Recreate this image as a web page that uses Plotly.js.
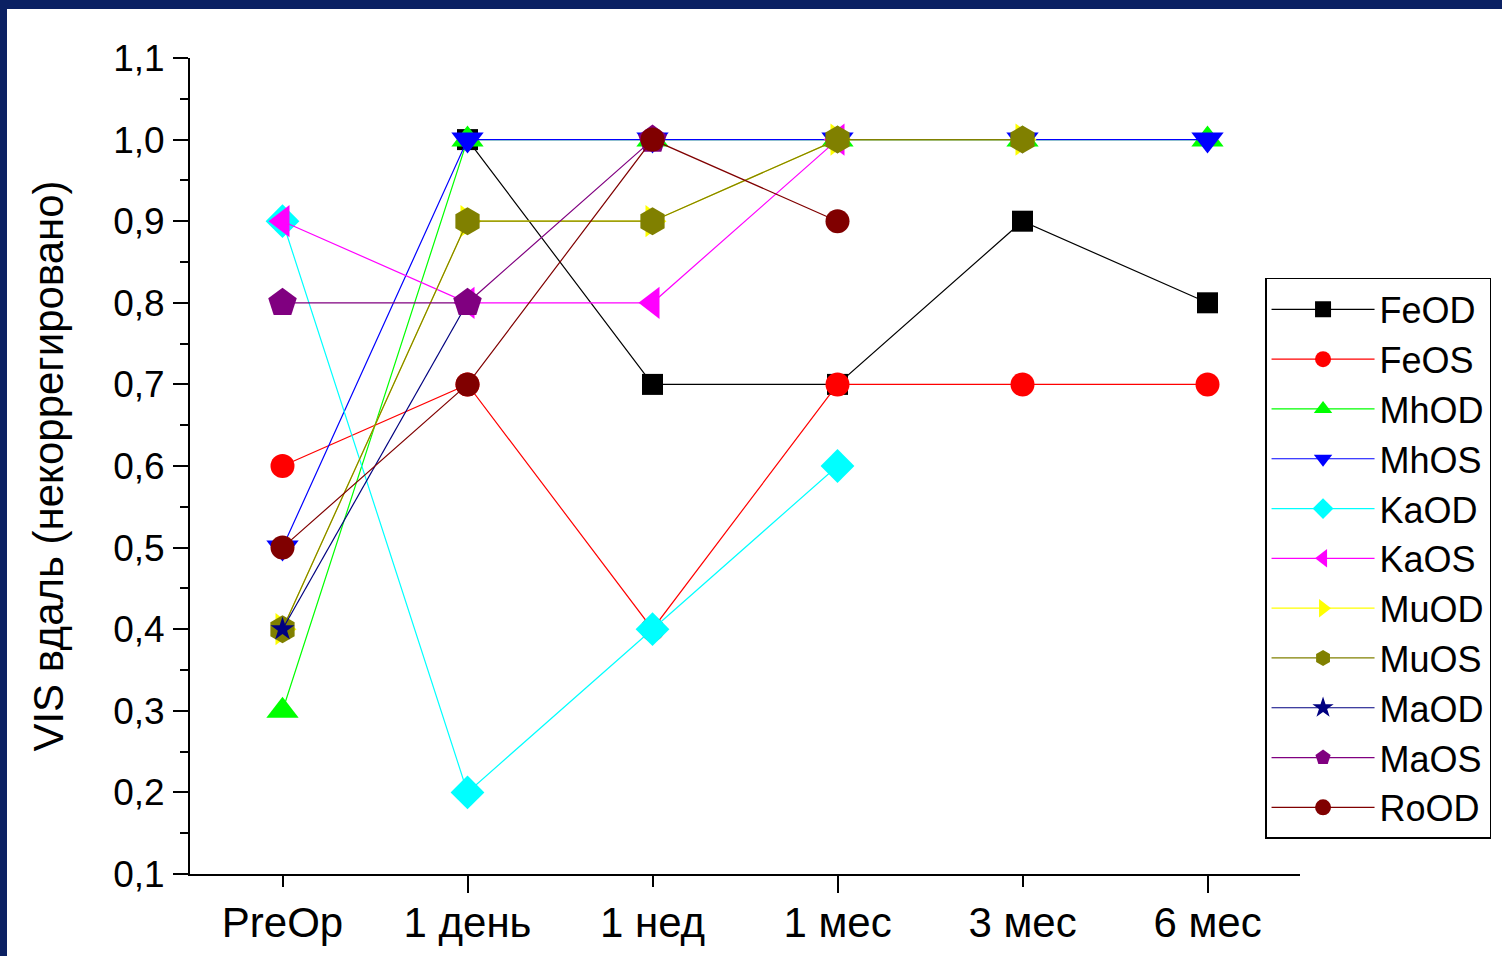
<!DOCTYPE html>
<html>
<head>
<meta charset="utf-8">
<script src="https://cdn.plot.ly/plotly-3.0.1.min.js"></script>
<style>
  html, body { margin:0; padding:0; width:1502px; height:956px; overflow:hidden; background:#0b2163; }
  #chart { position:absolute; left:7px; top:9px; width:1495px; height:947px; background:#ffffff; }
</style>
</head>
<body>
<div id="chart"></div>
<script>
const categories = ['PreOp', '1 день', '1 нед', '1 мес', '3 мес', '6 мес'];
const yTickVals = [0.1, 0.2, 0.3, 0.4, 0.5, 0.6, 0.7, 0.8, 0.9, 1.0, 1.1];
const longTickCats = [1, 3, 5];

const FeOD = [null, 1.0, 0.7, 0.7, 0.9, 0.8];
const FeOS = [0.6, 0.7, 0.4, 0.7, 0.7, 0.7];
const MhOD = [0.3, 1.0, 1.0, 1.0, 1.0, 1.0];
const MhOS = [0.5, 1.0, 1.0, 1.0, 1.0, 1.0];
const KaOD = [0.9, 0.2, 0.4, 0.6, null, null];
const KaOS = [0.9, 0.8, 0.8, 1.0, null, null];
const MuOD = [0.4, 0.9, 0.9, 1.0, 1.0, null];
const MuOS = [0.4, 0.9, 0.9, 1.0, 1.0, null];
const MaOD = [0.4, 0.8, null, null, null, null];
const MaOS = [0.8, 0.8, 1.0, null, null, null];
const RoOD = [0.5, 0.7, 1.0, 0.9, null, null];

const seriesNames = ['FeOD','FeOS','MhOD','MhOS','KaOD','KaOS','MuOD','MuOS','MaOD','MaOS','RoOD'];
const seriesData  = [FeOD, FeOS, MhOD, MhOS, KaOD, KaOS, MuOD, MuOS, MaOD, MaOS, RoOD];
const seriesColors = ['#000000','#ff0000','#00ff00','#0000ff','#00ffff','#ff00ff','#ffff00','#808000','#000080','#800080','#800000'];
const seriesSymbols = ['square','circle','triangle-up','triangle-down','diamond','triangle-left','triangle-right','hexagon','star','pentagon','circle'];
const seriesSizes = [21, 24, 28, 28, 26, 28, 28, 28, 18, 30, 24];

const FONT = 'Arial, "Liberation Sans", sans-serif';

const traces = seriesNames.map((name, i) => ({
  type: 'scatter',
  mode: 'lines+markers',
  name: name,
  x: categories,
  y: seriesData[i],
  connectgaps: false,
  line: { color: seriesColors[i], width: 1.2 },
  marker: { color: seriesColors[i], symbol: seriesSymbols[i], size: seriesSizes[i], line: { width: 0 } }
}));

// empty helper trace so the overlaying tick axis (longer ticks) gets drawn
traces.push({ type: 'scatter', mode: 'markers', x: [], y: [], xaxis: 'x2', yaxis: 'y', showlegend: false, hoverinfo: 'skip' });

const layout = {
  width: 1495,
  height: 947,
  paper_bgcolor: '#ffffff',
  plot_bgcolor: '#ffffff',
  separators: ', ',
  margin: { l: 183, r: 202, t: 49, b: 82, autoexpand: false },
  font: { family: FONT, color: '#000000' },
  showlegend: true,
  legend: {
    xref: 'container', yref: 'container',
    x: 0.8415, y: 0.716, xanchor: 'left', yanchor: 'top',
    bgcolor: '#ffffff', bordercolor: '#000000', borderwidth: 1.5,
    font: { family: FONT, size: 36, color: '#000000' },
    itemwidth: 103,
    maxheight: 700,
    tracegroupgap: 0
  },
  xaxis: {
    type: 'category',
    range: [-0.5, 5.5],
    showgrid: false, zeroline: false,
    showline: true, linecolor: '#000000', linewidth: 2,
    ticks: 'outside', ticklen: 11, tickwidth: 2, tickcolor: '#000000',
    tickfont: { family: FONT, size: 42, color: '#000000' },
    ticklabelstandoff: 0
  },
  xaxis2: {
    overlaying: 'x', anchor: 'y', side: 'bottom',
    type: 'linear',
    range: [-0.5, 5.5],
    showgrid: false, zeroline: false, showline: false,
    tickmode: 'array', tickvals: longTickCats,
    ticks: 'outside', ticklen: 18, tickwidth: 2, tickcolor: '#000000',
    showticklabels: false
  },
  yaxis: {
    range: [0.1, 1.1],
    showgrid: false, zeroline: false,
    showline: true, linecolor: '#000000', linewidth: 2,
    tickmode: 'array', tickvals: yTickVals, tickformat: '.1f',
    ticks: 'outside', ticklen: 15, tickwidth: 2, tickcolor: '#000000',
    minor: { dtick: 0.05, tick0: 0.05, ticks: 'outside', ticklen: 8, tickwidth: 2, tickcolor: '#000000', showgrid: false },
    tickfont: { family: FONT, size: 37, color: '#000000' },
    ticklabelstandoff: 1,
    title: { text: 'VIS вдаль (некоррегировано)', font: { family: FONT, size: 42, color: '#000000' }, standoff: 36 }
  }
};

Plotly.newPlot('chart', traces, layout, { displayModeBar: false, staticPlot: true });
</script>
</body>
</html>
